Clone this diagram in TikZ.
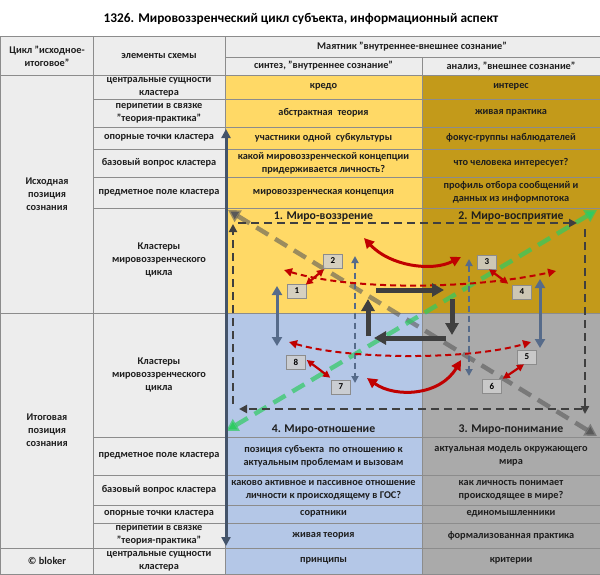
\documentclass[tikz,border=0pt]{standalone}
\usepackage{fontspec}
\setmainfont{Carlito}
\usetikzlibrary{arrows.meta}
\definecolor{hdr}{HTML}{EDEDED}
\definecolor{yel}{HTML}{FFD966}
\definecolor{goldc}{HTML}{C39A1A}
\definecolor{blu}{HTML}{B4C7E7}
\definecolor{gry}{HTML}{AAAAAA}
\definecolor{gridc}{HTML}{8C8C8C}
\definecolor{txtc}{HTML}{1E1E1E}
\definecolor{darkar}{HTML}{3F3F3F}
\definecolor{slate}{HTML}{44546A}
\definecolor{slatel}{HTML}{566B8A}
\definecolor{redc}{HTML}{C00000}
\definecolor{greenc}{HTML}{2FCB62}
\definecolor{grayd}{HTML}{595959}
\definecolor{boxc}{HTML}{CFCFCF}
\begin{document}
\begin{tikzpicture}[x=1pt,y=-1pt,
  txt/.style={font=\bfseries\fontsize{10.3}{13}\selectfont, text=txtc, align=center, inner sep=0pt},
  lbl/.style={font=\bfseries\fontsize{11.8}{14}\selectfont, text=txtc, inner sep=0pt},
  ttl/.style={font=\bfseries\fontsize{13.3}{15}\selectfont, text=black, inner sep=0pt},
  gridl/.style={draw=gridc, line width=0.8pt},
  numbox/.style={draw=gridc, line width=0.6pt, fill=boxc, fill opacity=0.85, text opacity=1,
    minimum width=19pt, minimum height=14pt, inner sep=0pt, font=\bfseries\fontsize{9}{10}\selectfont, text=black},
  thickdark/.style={draw=darkar, line width=5pt, -{Triangle[length=12pt,width=13pt]}},
  bigslate/.style={draw=slate, line width=3pt, {Triangle[length=9pt,width=9pt]}-{Triangle[length=9pt,width=9pt]}},
  slatedouble/.style={draw=slatel, line width=3pt, {Triangle[length=9pt,width=10pt]}-{Triangle[length=9pt,width=10pt]}},
  slatedash/.style={draw=slatel, line width=1.8pt, dash pattern=on 6pt off 4pt, {Triangle[length=7pt,width=7pt]}-{Triangle[length=7pt,width=7pt]}},
  rectdash/.style={draw=darkar, line width=2.2pt, dash pattern=on 8pt off 5pt, -{Triangle[length=8pt,width=8pt]}},
  redcurve/.style={draw=redc, line width=3pt, {Triangle[length=10pt,width=10pt]}-{Triangle[length=10pt,width=10pt]}},
  reddash/.style={draw=redc, line width=2pt, dash pattern=on 6pt off 4pt, {Triangle[length=8pt,width=8pt]}-{Triangle[length=8pt,width=8pt]}},
  redsmall/.style={draw=redc, line width=2.2pt, {Triangle[length=7pt,width=7pt]}-{Triangle[length=7pt,width=7pt]}},
  graydiag/.style={draw=grayd, draw opacity=0.6, line width=4.5pt, dash pattern=on 14pt off 8pt, {Triangle[length=12pt,width=13pt]}-{Triangle[length=12pt,width=13pt]}},
  greendiag/.style={draw=greenc, draw opacity=0.7, line width=4.5pt, dash pattern=on 14pt off 8pt, {Triangle[length=12pt,width=13pt]}-{Triangle[length=12pt,width=13pt]}}
]
\useasboundingbox (0,0) rectangle (600,574);
% backgrounds
\fill[white] (0,0) rectangle (600,574);
\fill[hdr] (0,36) rectangle (225,574);
\fill[hdr] (225,36) rectangle (600,75);
\fill[yel] (225,75) rectangle (422,313);
\fill[goldc] (422,75) rectangle (600,313);
\fill[blu] (225,313) rectangle (422,574);
\fill[gry] (422,313) rectangle (600,574);
% grid
\draw[gridl] (0,36) rectangle (600,574);
\draw[gridl] (93,36) -- (93,574);
\draw[gridl] (225,36) -- (225,574);
\draw[gridl] (422,57) -- (422,574);
\draw[gridl] (225,57) -- (600,57);
\draw[gridl] (0,75) -- (600,75);
\foreach \yy in {99,127,149,177,208,437,475,505,523} \draw[gridl] (93,\yy) -- (600,\yy);
\draw[gridl] (0,313) -- (600,313);
\draw[gridl] (0,548) -- (600,548);
% title and header
\node[ttl] (title) at (301,19) {1326. Мировоззренческий цикл субъекта, информационный аспект};
\node[txt] (h1) at (47,56) {Цикл "исходное-\\итоговое"};
\node[txt] (h2) at (159,56) {элементы схемы};
\node[txt] (h3) at (412,47) {Маятник "внутреннее-внешнее сознание"};
\node[txt] (h4) at (323.5,66) {синтез, "внутреннее сознание"};
\node[txt] (h5) at (511,66) {анализ, "внешнее сознание"};
% left column
\node[txt] (l1) at (47,194) {Исходная\\позиция\\сознания};
\node[txt] (l2) at (47,430) {Итоговая\\позиция\\сознания};
\node[txt] (l3) at (47,561) {© bloker};
% second column
\node[txt] (e1) at (159,87) {центральные сущности\\кластера};
\node[txt] (e2) at (159,113) {перипетии в связке\\"теория-практика"};
\node[txt] (e3) at (159,138) {опорные точки кластера};
\node[txt] (e4) at (159,163) {базовый вопрос кластера};
\node[txt] (e5) at (159,192.5) {предметное поле кластера};
\node[txt] (e6) at (159,260) {Кластеры\\мировоззренческого\\цикла};
\node[txt] (e7) at (159,375) {Кластеры\\мировоззренческого\\цикла};
\node[txt] (e8) at (159,456) {предметное поле кластера};
\node[txt] (e9) at (159,490) {базовый вопрос кластера};
\node[txt] (e10) at (159,514) {опорные точки кластера};
\node[txt] (e11) at (159,535.5) {перипетии в связке\\"теория-практика"};
\node[txt] (e12) at (159,561) {центральные сущности\\кластера};
% column 3 top
\node[txt] (a1) at (323.5,87) {кредо};
\node[txt] (a2) at (323.5,113) {абстрактная\ \ теория};
\node[txt] (a3) at (323.5,138) {участники одной\ \ субкультуры};
\node[txt] (a4) at (323.5,163) {какой мировоззренческой концепции\\придерживается личность?};
\node[txt] (a5) at (323.5,192.5) {мировоззренческая концепция};
% column 4 top
\node[txt] (b1t) at (511,87) {интерес};
\node[txt] (b2t) at (511,113) {живая практика};
\node[txt] (b3t) at (511,138) {фокус-группы наблюдателей};
\node[txt] (b4t) at (511,163) {что человека интересует?};
\node[txt] (b5t) at (511,192.5) {профиль отбора сообщений и\\данных из информпотока};
% column 3 bottom
\node[txt] (c1) at (323.5,456) {позиция субъекта\ \ по отношению к\\актуальным проблемам и вызовам};
\node[txt] (c2) at (323.5,490) {каково активное и пассивное отношение\\личности к происходящему в ГОС?};
\node[txt] (c3) at (323.5,514) {соратники};
\node[txt] (c4) at (323.5,535.5) {живая теория};
\node[txt] (c5) at (323.5,561) {принципы};
% column 4 bottom
\node[txt] (d1) at (511,456) {актуальная модель окружающего\\мира};
\node[txt] (d2) at (511,490) {как личность понимает\\происходящее в мире?};
\node[txt] (d3) at (511,514) {единомышленники};
\node[txt] (d4) at (511,535.5) {формализованная практика};
\node[txt] (d5) at (511,561) {критерии};
% cluster labels
\node[lbl] (q1) at (323.5,217) {1. Миро-воззрение};
\node[lbl] (q2) at (511,217) {2. Миро-восприятие};
\node[lbl] (q4) at (323.5,430) {4. Миро-отношение};
\node[lbl] (q3) at (511,430) {3. Миро-понимание};
% coordinates
\coordinate (vt) at (226,129);
\coordinate (vb) at (226,546);
\coordinate (gdA) at (228,210);
\coordinate (gdB) at (597,436);
\coordinate (grA) at (226,431);
\coordinate (grB) at (597,210);
\coordinate (rt1) at (238,223); \coordinate (rt2) at (577,223);
\coordinate (rr1) at (585,229); \coordinate (rr2) at (585,414);
\coordinate (rb1) at (582,409); \coordinate (rb2) at (239,409);
\coordinate (rl1) at (233,404); \coordinate (rl2) at (233,224);
\coordinate (dk1) at (376,290); \coordinate (dk2) at (444,290);
\coordinate (dk3) at (452,299); \coordinate (dk4) at (452,335);
\coordinate (dk5) at (446,338); \coordinate (dk6) at (374,338);
\coordinate (dk7) at (368,336); \coordinate (dk8) at (368,299);
\coordinate (sl1) at (277,286); \coordinate (sl2) at (277,346);
\coordinate (sr1) at (540,279); \coordinate (sr2) at (540,348);
\coordinate (sd1) at (355,256); \coordinate (sd2) at (355,383);
\coordinate (se1) at (469,259); \coordinate (se2) at (469,376);
\coordinate (ru1) at (364,238); \coordinate (ru2) at (461,257);
\coordinate (rd1) at (367,378); \coordinate (rd2) at (461,360);
\coordinate (rh1) at (284,270); \coordinate (rh2) at (556,271);
\coordinate (rg1) at (289,342); \coordinate (rg2) at (531,342);
% diagonals
\draw[graydiag] (gdA) -- (gdB);
\draw[greendiag] (grA) -- (grB);
% big vertical
\draw[bigslate] (vt) -- (vb);
% dashed cycle rectangle
\draw[rectdash] (rt1) -- (rt2);
\draw[rectdash] (rr1) -- (rr2);
\draw[rectdash] (rb1) -- (rb2);
\draw[rectdash] (rl1) -- (rl2);
% slate double arrows
\draw[slatedouble] (sl1) -- (sl2);
\draw[slatedouble] (sr1) -- (sr2);
\draw[slatedash] (sd1) -- (sd2);
\draw[slatedash] (se1) -- (se2);
% red dashed
\draw[reddash] (rh1) .. controls (350,290) and (470,290) .. (rh2);
\draw[reddash] (rg1) .. controls (350,360) and (470,360) .. (rg2);
% red curves
\draw[redcurve] (ru1) .. controls (390,266) and (432,272) .. (ru2);
\draw[redcurve] (rd1) .. controls (395,398) and (440,396) .. (rd2);
% central dark cycle
\draw[thickdark] (dk1) -- (dk2);
\draw[thickdark] (dk3) -- (dk4);
\draw[thickdark] (dk5) -- (dk6);
\draw[thickdark] (dk7) -- (dk8);
% numbered boxes
\node[numbox] (n1) at (297,291) {1};
\node[numbox] (n2) at (333,261) {2};
\node[numbox] (n3) at (487,262) {3};
\node[numbox] (n4) at (522,292) {4};
\node[numbox] (n5) at (527,357) {5};
\node[numbox] (n6) at (492,386) {6};
\node[numbox] (n7) at (341,387) {7};
\node[numbox] (n8) at (296,362) {8};
\draw[redsmall] ([xshift=-1pt,yshift=-1pt]n1.north east) -- ([xshift=-9pt,yshift=-1pt]n2.south);
\draw[redsmall] ([xshift=2pt]n3.south) -- ([xshift=-4pt,yshift=1pt]n4.north west);
\draw[redsmall] ([xshift=1pt]n6.north east) -- ([xshift=-3pt]n5.south);
\draw[redsmall] ([xshift=1pt,yshift=2pt]n8.east) -- ([xshift=-1pt,yshift=2pt]n7.north west);
\end{tikzpicture}
\end{document}
